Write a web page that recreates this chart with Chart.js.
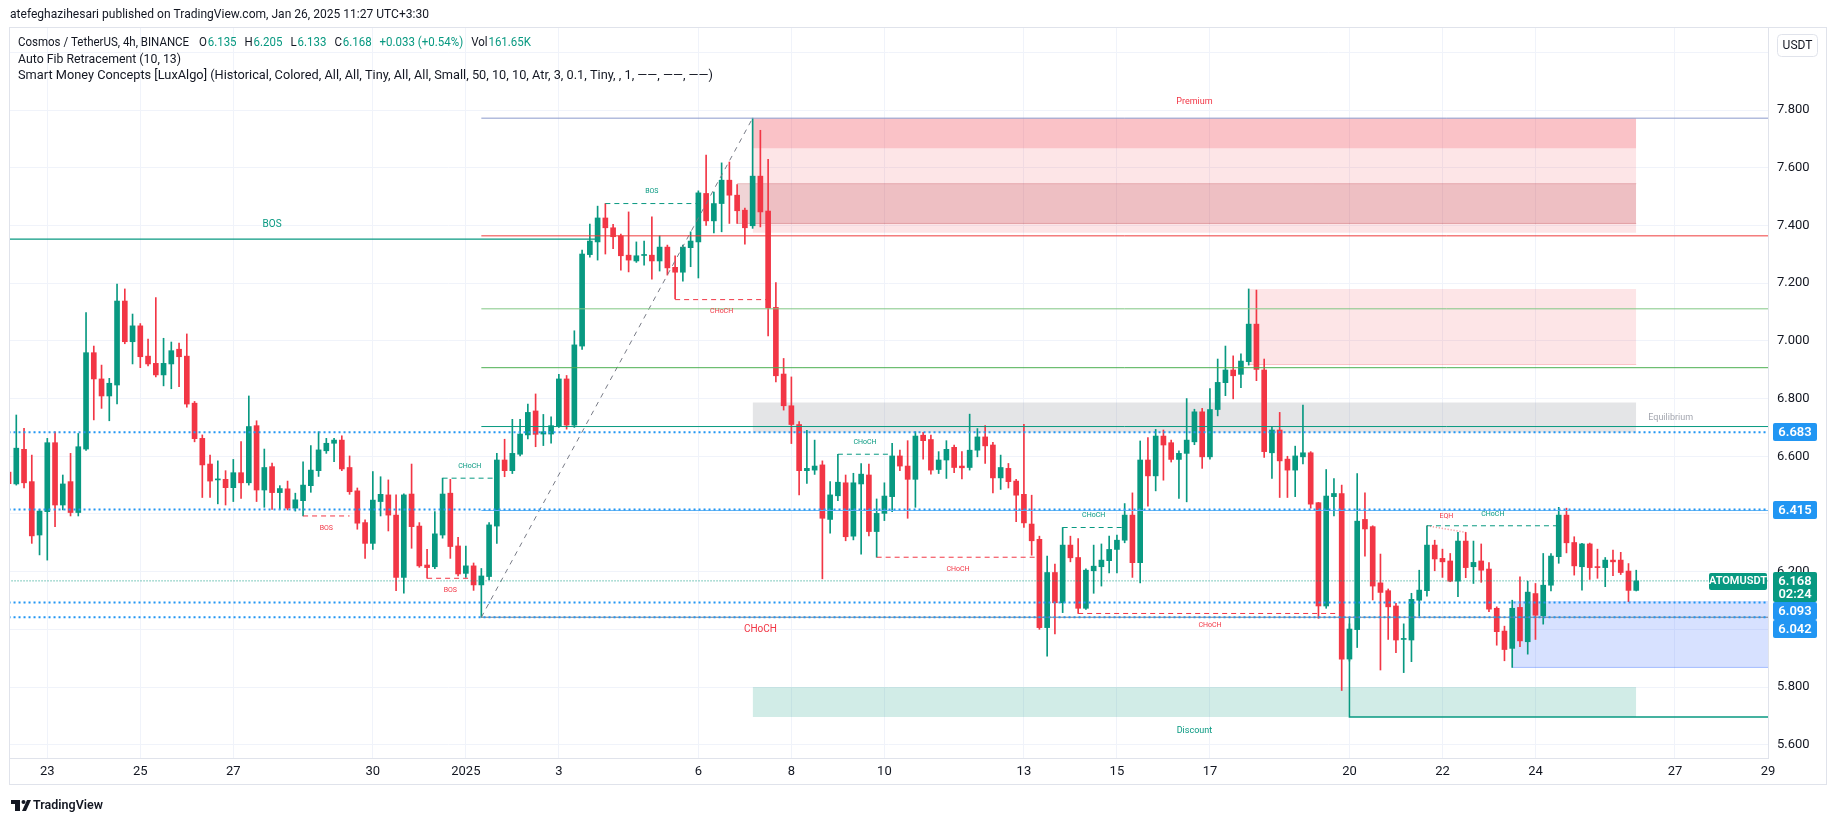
<!DOCTYPE html>
<html>
<head>
<meta charset="utf-8">
<title>ATOMUSDT 4h</title>
<script src="https://cdn.jsdelivr.net/npm/chart.js@4.4.1/dist/chart.umd.min.js"></script>
<style>
  html, body { margin: 0; padding: 0; background: #fff; }
  canvas { display: block; }
</style>
</head>
<body>
<canvas id="chart" width="1835" height="821"></canvas>
<script>
// 4h candles, Dec 22 07:30 -> Jan 26 07:30 (UTC+3:30), index 0..210
const opens = [
  6.545,6.504,6.624,6.512,6.327,6.408,6.647,6.431,6.512,6.405,
  6.625,6.959,6.868,6.809,6.847,7.138,6.997,7.052,6.947,6.922,
  6.882,6.920,6.971,6.947,6.784,6.662,6.573,6.518,6.520,6.491,
  6.543,6.508,6.706,6.483,6.564,6.474,6.487,6.420,6.446,6.498,
  6.550,6.619,6.645,6.656,6.561,6.480,6.370,6.298,6.443,6.466,
  6.396,6.180,6.469,6.358,6.223,6.217,6.327,6.472,6.289,6.194,
  6.220,6.154,6.183,6.358,6.587,6.550,6.607,6.674,6.757,6.677,
  6.677,6.706,6.868,6.708,6.982,7.299,7.343,7.426,7.392,7.364,
  7.297,7.277,7.296,7.297,7.277,7.325,7.255,7.238,7.323,7.343,
  7.511,7.416,7.476,7.557,7.505,7.453,7.399,7.571,7.450,7.116,
  6.885,6.775,6.710,6.550,6.552,6.570,6.381,6.463,6.508,6.323,
  6.504,6.535,6.339,6.402,6.460,6.601,6.566,6.520,6.673,6.658,
  6.554,6.587,6.631,6.566,6.561,6.621,6.667,6.639,6.525,6.558,
  6.514,6.468,6.365,6.312,6.006,6.197,6.092,6.292,6.249,6.073,
  6.203,6.217,6.238,6.277,6.309,6.396,6.231,6.587,6.532,6.670,
  6.647,6.589,6.610,6.650,6.754,6.598,6.762,6.855,6.899,6.884,
  6.928,7.058,6.899,6.612,6.691,6.590,6.552,6.598,6.612,6.439,
  6.081,6.460,6.471,5.897,5.999,6.381,6.356,6.161,6.134,6.081,
  5.965,5.963,6.101,6.134,6.292,6.246,6.237,6.167,6.306,6.217,
  6.237,6.209,6.073,5.994,5.934,6.076,5.957,6.124,6.047,6.153,
  6.252,6.396,6.301,6.217,6.296,6.216,6.214,6.240,6.240,6.202,
  6.135
];
const highs = [
  6.560,6.743,6.697,6.604,6.415,6.662,6.685,6.535,6.610,6.679,
  7.098,6.982,6.916,6.870,7.197,7.180,7.093,7.060,7.006,7.150,
  7.009,6.996,6.992,7.024,6.790,6.674,6.604,6.584,6.550,6.589,
  6.651,6.809,6.723,6.625,6.576,6.498,6.514,6.472,6.581,6.637,
  6.685,6.662,6.662,6.671,6.601,6.490,6.380,6.547,6.529,6.518,
  6.466,6.470,6.573,6.370,6.277,6.408,6.524,6.520,6.319,6.289,
  6.230,6.211,6.370,6.610,6.659,6.728,6.728,6.781,6.816,6.745,
  6.737,6.884,6.880,7.035,7.315,7.405,7.467,7.476,7.404,7.370,
  7.447,7.343,7.346,7.430,7.364,7.332,7.295,7.332,7.378,7.520,
  7.644,7.516,7.617,7.620,7.542,7.460,7.772,7.730,7.629,7.202,
  6.939,6.875,6.720,6.690,6.656,6.584,6.512,6.607,6.535,6.541,
  6.575,6.573,6.452,6.508,6.645,6.621,6.654,6.685,6.683,6.673,
  6.616,6.654,6.639,6.616,6.746,6.696,6.706,6.648,6.604,6.575,
  6.520,6.711,6.465,6.323,6.254,6.226,6.353,6.323,6.315,6.210,
  6.292,6.296,6.323,6.327,6.436,6.473,6.653,6.665,6.693,6.691,
  6.656,6.619,6.800,6.763,6.766,6.835,6.937,6.982,6.948,6.955,
  7.180,7.176,6.937,6.702,6.752,6.600,6.635,6.777,6.616,6.440,
  6.554,6.523,6.500,6.019,6.540,6.473,6.359,6.261,6.140,6.090,
  6.019,6.125,6.205,6.359,6.309,6.278,6.263,6.336,6.336,6.306,
  6.296,6.231,6.078,6.011,6.101,6.182,6.167,6.159,6.263,6.263,
  6.423,6.420,6.321,6.298,6.299,6.278,6.249,6.275,6.267,6.228,
  6.205
];
const lows = [
  6.490,6.500,6.490,6.298,6.258,6.240,6.356,6.414,6.393,6.393,
  6.620,6.726,6.766,6.723,6.781,6.990,6.920,6.907,6.913,6.875,
  6.844,6.834,6.841,6.770,6.650,6.457,6.457,6.435,6.431,6.443,
  6.454,6.500,6.443,6.423,6.416,6.416,6.414,6.410,6.393,6.475,
  6.530,6.610,6.581,6.550,6.468,6.347,6.246,6.277,6.393,6.341,
  6.134,6.125,6.281,6.215,6.177,6.210,6.316,6.246,6.185,6.180,
  6.135,6.042,6.171,6.298,6.529,6.540,6.601,6.660,6.633,6.637,
  6.645,6.700,6.694,6.700,6.970,7.290,7.280,7.301,7.320,7.245,
  7.239,7.272,7.262,7.214,7.242,7.228,7.145,7.207,7.257,7.218,
  7.400,7.374,7.378,7.407,7.407,7.335,7.390,7.395,7.017,6.858,
  6.760,6.644,6.466,6.506,6.537,6.175,6.333,6.446,6.307,6.310,
  6.261,6.324,6.250,6.377,6.408,6.550,6.385,6.423,6.590,6.538,
  6.540,6.523,6.543,6.521,6.552,6.598,6.575,6.473,6.485,6.490,
  6.373,6.353,6.257,6.000,5.907,5.984,6.058,6.234,6.055,6.069,
  6.125,6.150,6.196,6.196,6.300,6.180,6.161,6.427,6.480,6.517,
  6.580,6.454,6.442,6.640,6.558,6.590,6.740,6.810,6.799,6.838,
  6.916,6.862,6.596,6.523,6.457,6.457,6.460,6.573,6.420,6.038,
  6.073,6.393,5.788,5.890,5.937,6.254,6.102,5.859,5.965,5.919,
  5.850,5.888,6.046,6.115,6.203,6.180,6.165,6.113,6.179,6.159,
  6.163,6.061,5.945,5.891,5.868,5.940,5.914,5.965,6.018,6.133,
  6.229,6.265,6.188,6.136,6.173,6.177,6.148,6.186,6.190,6.096,
  6.133
];
const closes = [
  6.505,6.628,6.508,6.324,6.410,6.647,6.431,6.504,6.405,6.633,
  6.959,6.868,6.809,6.853,7.138,6.997,7.052,6.945,6.920,6.882,
  6.922,6.966,6.945,6.781,6.661,6.570,6.514,6.521,6.491,6.543,
  6.508,6.703,6.483,6.561,6.474,6.488,6.420,6.449,6.500,6.552,
  6.622,6.645,6.656,6.556,6.477,6.368,6.298,6.448,6.468,6.396,
  6.180,6.466,6.356,6.220,6.214,6.331,6.469,6.287,6.192,6.220,
  6.154,6.185,6.362,6.587,6.550,6.610,6.677,6.752,6.676,6.685,
  6.706,6.868,6.708,6.986,7.301,7.346,7.426,7.392,7.361,7.295,
  7.280,7.295,7.297,7.277,7.325,7.253,7.238,7.325,7.346,7.513,
  7.416,7.476,7.557,7.505,7.451,7.392,7.571,7.447,7.114,6.879,
  6.775,6.710,6.550,6.558,6.566,6.385,6.466,6.510,6.321,6.508,
  6.538,6.339,6.402,6.462,6.601,6.566,6.520,6.670,6.654,6.552,
  6.587,6.624,6.561,6.560,6.621,6.667,6.636,6.525,6.561,6.512,
  6.465,6.369,6.307,6.006,6.197,6.092,6.292,6.248,6.073,6.205,
  6.219,6.240,6.277,6.309,6.396,6.231,6.587,6.532,6.670,6.639,
  6.589,6.610,6.656,6.754,6.598,6.762,6.856,6.899,6.879,6.930,
  7.058,6.901,6.616,6.691,6.584,6.552,6.601,6.612,6.434,6.081,
  6.462,6.471,5.897,6.001,6.375,6.348,6.150,6.128,6.078,5.963,
  5.966,6.104,6.136,6.292,6.244,6.234,6.167,6.306,6.214,6.232,
  6.205,6.070,5.992,5.930,6.073,5.960,6.129,6.049,6.153,6.254,
  6.396,6.300,6.220,6.296,6.214,6.214,6.240,6.234,6.197,6.135,
  6.168
];
const volumeText = '161.65K';

// time axis: candle index of the first bar of each labelled day
const tickIdx = [5, 17, 29, 47, 59, 71, 89, 101, 113, 131, 143, 155, 173, 185, 197, 215, 227];
const tickLabels = ['23', '25', '27', '30', '2025', '3', '6', '8', '10', '13', '15', '17', '20', '22', '24', '27', '29'];
const priceTicks = [5.6, 5.8, 6.0, 6.2, 6.4, 6.6, 6.8, 7.0, 7.2, 7.4, 7.6, 7.8, 8.0];

// auto fib retracement (anchored at the Jan 1 low and the Jan 7 high)
const fibStart = 61;
const fibLevels = [7.772, 7.364, 7.111, 6.907, 6.703, 6.412, 6.042];
const fibAnchors = [[61, 6.042], [96, 7.772]];

// horizontal rays
const rayLevels = [6.683, 6.415, 6.093, 6.042];

// smart money concepts: [fromIdx, toIdx, price, text, bullish]
const internalBreaks = [
  [38, 44, 6.393, 'BOS', 0],
  [54, 60, 6.177, 'BOS', 0],
  [56, 63, 6.524, 'CHoCH', 1],
  [77, 89, 7.476, 'BOS', 1],
  [86, 98, 7.143, 'CHoCH', 0],
  [107, 114, 6.607, 'CHoCH', 1],
  [112, 133, 6.250, 'CHoCH', 0],
  [136, 144, 6.353, 'CHoCH', 1],
  [138, 172, 6.055, 'CHoCH', 0],
  [183, 200, 6.359, 'CHoCH', 1]
];
const swingBreaks = [
  [-8, 76, 7.353, 'BOS', 1],
  [61, 133, 6.042, 'CHoCH', 0]
];
const eqhPoints = [[183, 6.359], [188, 6.336]];
const strongLow = [[173, 6.042], [173, 5.696], [227, 5.696]];

// zones: [fromIdx, toIdx, top, bottom]
const obUpper = [96, 210, 7.772, 7.375];
const obInner = [94, 210, 7.545, 7.407];
const obLower = [160, 210, 7.180, 6.918];
const bullOb = [194, 227, 6.098, 5.868];
const premiumZone = [96, 210, 7.772, 7.668];
const equilibriumZone = [96, 210, 6.786, 6.682];
const discountZone = [96, 210, 5.800, 5.696];

const UP = '#089981';
const DOWN = '#f23645';
const BLUE = '#2196f3';
const FONT = 'Roboto, "Noto Sans", sans-serif';
const fibColors = ['#8a9acb', '#ef3b3b', '#81c784', '#4caf50', '#089981', '#64b5f6', '#787b86'];

const last = closes.length - 1;
const candleColor = i => (closes[i] >= opens[i] ? UP : DOWN);

function seg(points, color, width, dash, order) {
  return {
    type: 'line',
    data: points.map(p => ({ x: p[0], y: p[1] })),
    borderColor: color,
    borderWidth: width,
    borderDash: dash || [],
    pointRadius: 0,
    pointHoverRadius: 0,
    fill: false,
    tension: 0,
    order: order
  };
}

function zone(z, color, order) {
  return {
    type: 'line',
    data: [{ x: z[0], y: z[2] }, { x: z[1], y: z[2] }],
    borderColor: 'rgba(0,0,0,0)',
    borderWidth: 1,
    pointRadius: 0,
    pointHoverRadius: 0,
    fill: { value: z[3] },
    backgroundColor: color,
    order: order
  };
}

const datasets = [];

// zones behind the candles
datasets.push(zone(obUpper, 'rgba(242,54,69,0.13)', 100));
datasets.push(zone(premiumZone, 'rgba(242,54,69,0.20)', 99));
datasets.push(zone(obInner, 'rgba(178,40,51,0.20)', 98));
datasets.push(seg([[obInner[0], obInner[2]], [obInner[1], obInner[2]]], 'rgba(178,40,51,0.25)', 1, [], 97));
datasets.push(seg([[obInner[0], obInner[3]], [obInner[1], obInner[3]]], 'rgba(178,40,51,0.30)', 1, [], 97));
datasets.push(zone(obLower, 'rgba(242,54,69,0.13)', 100));
datasets.push(seg([[obLower[0], obLower[3]], [obLower[1], obLower[3]]], 'rgba(242,54,69,0.25)', 1, [], 97));
datasets.push(zone(equilibriumZone, 'rgba(120,123,134,0.20)', 100));
datasets.push(zone(discountZone, 'rgba(8,153,129,0.19)', 100));
datasets.push(zone(bullOb, 'rgba(41,98,255,0.19)', 100));
datasets.push(seg([[bullOb[0], bullOb[3]], [bullOb[1], bullOb[3]]], 'rgba(41,98,255,0.35)', 1, [], 97));

// candles: wicks then bodies
datasets.push({
  type: 'bar',
  data: opens.map((_, i) => ({ x: i, y: [lows[i], highs[i]] })),
  backgroundColor: ctx => candleColor(ctx.dataIndex),
  barThickness: 1,
  grouped: false,
  order: 21
});
datasets.push({
  type: 'bar',
  data: opens.map((o, i) => ({ x: i, y: [o, closes[i]] })),
  backgroundColor: ctx => candleColor(ctx.dataIndex),
  barThickness: 5,
  minBarLength: 1,
  grouped: false,
  order: 20
});

// structure lines
internalBreaks.forEach(b => {
  datasets.push(seg([[b[0], b[2]], [b[1], b[2]]], b[4] ? UP : DOWN, 1, [5, 4], 15));
});
datasets.push(seg([[swingBreaks[0][0], swingBreaks[0][2]], [swingBreaks[0][1], swingBreaks[0][2]]], UP, 1.2, [], 15));
datasets.push(seg(eqhPoints, 'rgba(242,54,69,0.6)', 1.5, [1, 2], 15));
datasets.push(seg(strongLow, UP, 1.5, [], 15));

// fib retracement
fibLevels.forEach((lv, k) => {
  datasets.push(seg([[fibStart, lv], [227, lv]], fibColors[k], 1, [], 12));
});
datasets.push(seg(fibAnchors, '#787b86', 1, [5, 5], 12));

// rays and last price
rayLevels.forEach(lv => {
  datasets.push(seg([[0, lv], [227, lv]], BLUE, 2, [2, 3], 5));
});
datasets.push(seg([[0, closes[last]], [227, closes[last]]], UP, 1, [1, 2], 5));

function fitRow(ctx, pieces, x, y, target) {
  let natural = 0;
  pieces.forEach(p => { natural += ctx.measureText(p[0]).width + p[2]; });
  const k = Math.max(0.75, Math.min(1.25, target / natural));
  ctx.save();
  ctx.translate(x, y);
  ctx.scale(k, 1);
  let cx = 0;
  pieces.forEach(p => {
    ctx.fillStyle = p[1];
    ctx.fillText(p[0], cx, 0);
    cx += ctx.measureText(p[0]).width + p[2];
  });
  ctx.restore();
}

function box(ctx, x, y, w, h, bg) {
  ctx.fillStyle = bg;
  ctx.beginPath();
  ctx.roundRect(x, y, w, h, 2);
  ctx.fill();
}

const overlay = {
  id: 'overlay',
  afterDatasetsDraw(chart) {
    const ctx = chart.ctx;
    const xs = chart.scales.x;
    const ys = chart.scales.y;
    const area = chart.chartArea;
    ctx.save();
    ctx.beginPath();
    ctx.rect(area.left, area.top, area.right - area.left, area.bottom - area.top);
    ctx.clip();
    ctx.textAlign = 'center';
    ctx.textBaseline = 'middle';

    ctx.font = '7px ' + FONT;
    internalBreaks.forEach(b => {
      ctx.fillStyle = b[4] ? UP : DOWN;
      const x = xs.getPixelForValue((b[0] + b[1]) / 2);
      const y = ys.getPixelForValue(b[2]) + (b[4] ? -12 : 12);
      ctx.fillText(b[3], x, y);
    });
    ctx.fillStyle = DOWN;
    ctx.fillText('EQH', xs.getPixelForValue((eqhPoints[0][0] + eqhPoints[1][0]) / 2),
      ys.getPixelForValue(eqhPoints[0][1]) - 10);

    ctx.font = '10px ' + FONT;
    swingBreaks.forEach(b => {
      ctx.fillStyle = b[4] ? UP : DOWN;
      const x = xs.getPixelForValue((b[0] + b[1]) / 2);
      const y = ys.getPixelForValue(b[2]) + (b[4] ? -15 : 12);
      ctx.fillText(b[3], x, y);
    });

    ctx.font = '9px ' + FONT;
    const mid = xs.getPixelForValue((premiumZone[0] + premiumZone[1]) / 2);
    ctx.fillStyle = DOWN;
    ctx.fillText('Premium', mid, ys.getPixelForValue(premiumZone[2]) - 16);
    ctx.fillStyle = UP;
    ctx.fillText('Discount', mid, ys.getPixelForValue(discountZone[3]) + 14);
    ctx.fillStyle = '#a3a6af';
    ctx.textAlign = 'left';
    ctx.fillText('Equilibrium', xs.getPixelForValue(equilibriumZone[1]) + 12,
      ys.getPixelForValue((equilibriumZone[2] + equilibriumZone[3]) / 2));
    ctx.restore();
  },
  afterDraw(chart) {
    const ctx = chart.ctx;
    const ys = chart.scales.y;
    const area = chart.chartArea;
    ctx.save();

    // panel frame
    ctx.strokeStyle = '#e0e3eb';
    ctx.lineWidth = 1;
    ctx.strokeRect(area.left + 0.5, area.top + 0.5, 1826 - area.left, 784 - area.top);

    // USDT button
    ctx.beginPath();
    ctx.roundRect(1777.5, 34.5, 40, 22, 4);
    ctx.stroke();
    ctx.fillStyle = '#131722';
    ctx.font = '12px ' + FONT;
    ctx.textAlign = 'center';
    ctx.textBaseline = 'middle';
    ctx.fillText('USDT', 1797.5, 46);

    // axis price labels
    const bx = 1773, bw = 44, cx = bx + bw / 2;
    ctx.font = '600 13px ' + FONT;
    [rayLevels[0], rayLevels[1]].forEach(lv => {
      const y = Math.round(ys.getPixelForValue(lv));
      box(ctx, bx, y - 9, bw, 18, BLUE);
      ctx.fillStyle = '#fff';
      ctx.fillText(lv.toFixed(3), cx, y + 0.5);
    });
    const yc = Math.round(ys.getPixelForValue(closes[last]));
    box(ctx, bx, yc - 9, bw, 30, UP);
    ctx.fillStyle = '#fff';
    ctx.fillText(closes[last].toFixed(3), cx, yc + 0.5);
    ctx.fillText('02:24', cx, yc + 14);
    let prev = yc + 21;
    [rayLevels[2], rayLevels[3]].forEach(lv => {
      const y = Math.max(Math.round(ys.getPixelForValue(lv)) - 9, prev);
      box(ctx, bx, y, bw, 18, BLUE);
      ctx.fillStyle = '#fff';
      ctx.fillText(lv.toFixed(3), cx, y + 9.5);
      prev = y + 18;
    });
    box(ctx, 1709, yc - 8, 58, 17, UP);
    ctx.fillStyle = '#fff';
    ctx.font = '600 11px ' + FONT;
    ctx.fillText('ATOMUSDT', 1738, yc + 0.5);

    // header and legend
    ctx.textAlign = 'left';
    ctx.textBaseline = 'middle';
    ctx.font = '13px ' + FONT;
    const dark = '#131722';
    fitRow(ctx, [['atefeghazihesari published on TradingView.com, Jan 26, 2025 11:27 UTC+3:30', dark, 0]], 10, 15, 419);
    const chg = closes[last] - closes[last - 1];
    const pct = chg / closes[last - 1] * 100;
    fitRow(ctx, [
      ['Cosmos / TetherUS, 4h, BINANCE', dark, 11],
      ['O', dark, 1], [opens[last].toFixed(3), UP, 9],
      ['H', dark, 1], [highs[last].toFixed(3), UP, 9],
      ['L', dark, 1], [lows[last].toFixed(3), UP, 9],
      ['C', dark, 1], [closes[last].toFixed(3), UP, 9],
      ['+' + chg.toFixed(3) + ' (+' + pct.toFixed(2) + '%)', UP, 9],
      ['Vol', dark, 1], [volumeText, UP, 0]
    ], 18, 43, 513);
    fitRow(ctx, [['Auto Fib Retracement (10, 13)', dark, 0]], 18, 60, 163);
    fitRow(ctx, [['Smart Money Concepts [LuxAlgo] (Historical, Colored, All, All, Tiny, All, All, Small, 50, 10, 10, Atr, 3, 0.1, Tiny, , 1, \u2014\u2014, \u2014\u2014, \u2014\u2014)', dark, 0]], 18, 76, 695);

    // TradingView mark
    ctx.fillStyle = '#131722';
    ctx.fillRect(11, 800, 9, 4);
    ctx.fillRect(15, 800, 5, 11);
    ctx.beginPath();
    ctx.arc(23.5, 802, 2, 0, Math.PI * 2);
    ctx.fill();
    ctx.beginPath();
    ctx.moveTo(27, 800); ctx.lineTo(31, 800); ctx.lineTo(26, 811); ctx.lineTo(22, 811);
    ctx.closePath();
    ctx.fill();
    ctx.font = '600 13px ' + FONT;
    fitRow(ctx, [['TradingView', dark, 0]], 33, 806, 70);
    ctx.restore();
  }
};

new Chart(document.getElementById('chart'), {
  type: 'bar',
  data: { datasets: datasets },
  options: {
    responsive: false,
    animation: false,
    devicePixelRatio: 1,
    layout: { padding: { left: 9, top: 27, right: 0, bottom: 0 } },
    plugins: { legend: { display: false }, tooltip: { enabled: false } },
    scales: {
      x: {
        type: 'linear',
        min: 0.06,
        max: 227,
        offset: false,
        grid: { color: '#f0f3fa', drawTicks: false, offset: false },
        border: { color: '#e0e3eb' },
        ticks: {
          autoSkip: false,
          maxRotation: 0,
          padding: 6,
          color: '#131722',
          font: { family: FONT, size: 13 },
          callback: (v, i) => tickLabels[i]
        },
        afterBuildTicks: s => { s.ticks = tickIdx.map(v => ({ value: v })); },
        afterFit: s => { s.height = 63; }
      },
      y: {
        type: 'linear',
        position: 'right',
        min: 5.554,
        max: 8.088,
        grid: { color: '#f0f3fa', drawTicks: false },
        border: { color: '#e0e3eb' },
        ticks: {
          padding: 9,
          color: '#131722',
          font: { family: FONT, size: 13 },
          callback: v => (v > 7.9 ? '' : Number(v).toFixed(3))
        },
        afterBuildTicks: s => { s.ticks = priceTicks.map(v => ({ value: v })); },
        afterFit: s => { s.width = 67; }
      }
    }
  },
  plugins: [overlay]
});
</script>
</body>
</html>
